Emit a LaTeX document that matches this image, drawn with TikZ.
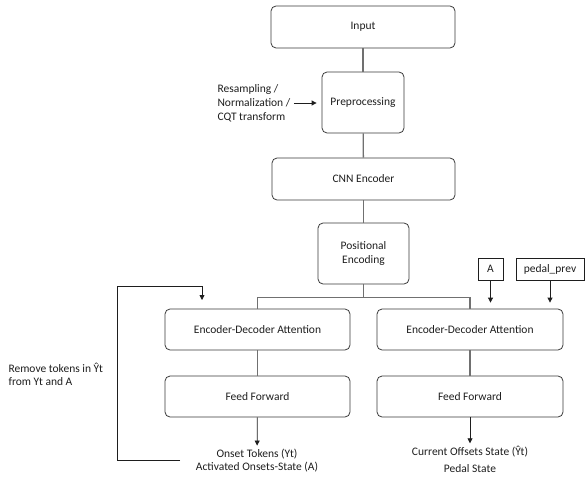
\documentclass[tikz,border=0pt]{standalone}
\usepackage{fontspec}
\setmainfont{Carlito}
\usetikzlibrary{positioning,arrows.meta,calc}
\definecolor{edge}{HTML}{3A3A3A}
\definecolor{link}{HTML}{707070}
\definecolor{ink}{HTML}{1E1E1E}

\begin{document}
\begin{tikzpicture}[x=1pt,y=-1pt,font=\fontsize{11.5}{13.5}\selectfont,text=ink,
  block/.style={draw=edge,line width=.8pt,rounded corners=5pt,align=center,inner sep=0pt},
  tag/.style={draw=ink,line width=.7pt,inner sep=0pt,minimum height=22pt},
  wire/.style={link,line width=1.3pt},
  feed/.style={ink,line width=.8pt,-{Triangle[length=5pt,width=5pt]}}]
\useasboundingbox (0,0) rectangle (585,476);
% main column
\node[block,minimum width=184pt,minimum height=42pt] (inp) at (363,27){Input};
\node[block,minimum width=82pt,minimum height=61pt] (prep) at (363,102.5){Preprocessing};
\node[block,minimum width=183pt,minimum height=42pt] (cnn) at (363.5,179){CNN Encoder};
\node[block,minimum width=91pt,minimum height=61pt] (pos) at (363.5,253.5){Positional\\Encoding};
\node[block,minimum width=185pt,minimum height=41pt] (encL) at (257.5,329.5){Encoder-Decoder Attention};
\node[block,minimum width=186pt,minimum height=41pt] (encR) at (470,329.5){Encoder-Decoder Attention};
\node[block,minimum width=185pt,minimum height=41pt] (ffL) at (257.5,396.5){Feed Forward};
\node[block,minimum width=186pt,minimum height=41pt] (ffR) at (470,396.5){Feed Forward};
\node[tag,minimum width=25pt] (a) at (490.5,269){A};
\node[tag,minimum width=68pt] (pprev) at (550,269){pedal\_prev};
% side texts
\node[anchor=west,align=left,font=\fontsize{11.5}{14}\selectfont] (note) at (214,103){Resampling /\\Normalization /\\CQT transform};
\node[anchor=west,align=left] (rm) at (5,374.5){Remove tokens in Ŷt\\from Yt and A};
\node[align=center,inner sep=1pt] (onset) at (257,460.5){Onset Tokens (Yt)\\Activated Onsets-State (A)};
\node[inner sep=1pt] (offs) at (470,452){Current Offsets State (Ŷt)};
\node[inner sep=1pt] (pedal) at (470,468.5){Pedal State};
\coordinate (fbstart) at (180,460);\coordinate (fbcorner) at (117,286);\coordinate (fbend) at (202,300);
% connectors
\draw[wire] (inp)--(prep);\draw[wire] (prep)--(cnn);\draw[wire] (cnn)--(pos);
\draw[wire] (pos.south)--++(0,13) coordinate (split);
\draw[wire] (encL.north)|-(split)-|(encR.north);
\draw[wire] (encL)--(ffL);\draw[wire] (encR)--(ffR);
\draw[feed] (note.east)--(note.east-|prep.west)[shorten >=5pt];
\draw[feed,shorten >=6pt] (a)--(a|-encR.north);\draw[feed,shorten >=6pt] (pprev)--(pprev|-encR.north);
\draw[feed,shorten >=2pt] (ffL)--(onset);\draw[feed,shorten >=2pt] (ffR)--(offs);
\draw[feed] (fbstart)-|(fbcorner)-|(fbend);
\end{tikzpicture}
\end{document}
